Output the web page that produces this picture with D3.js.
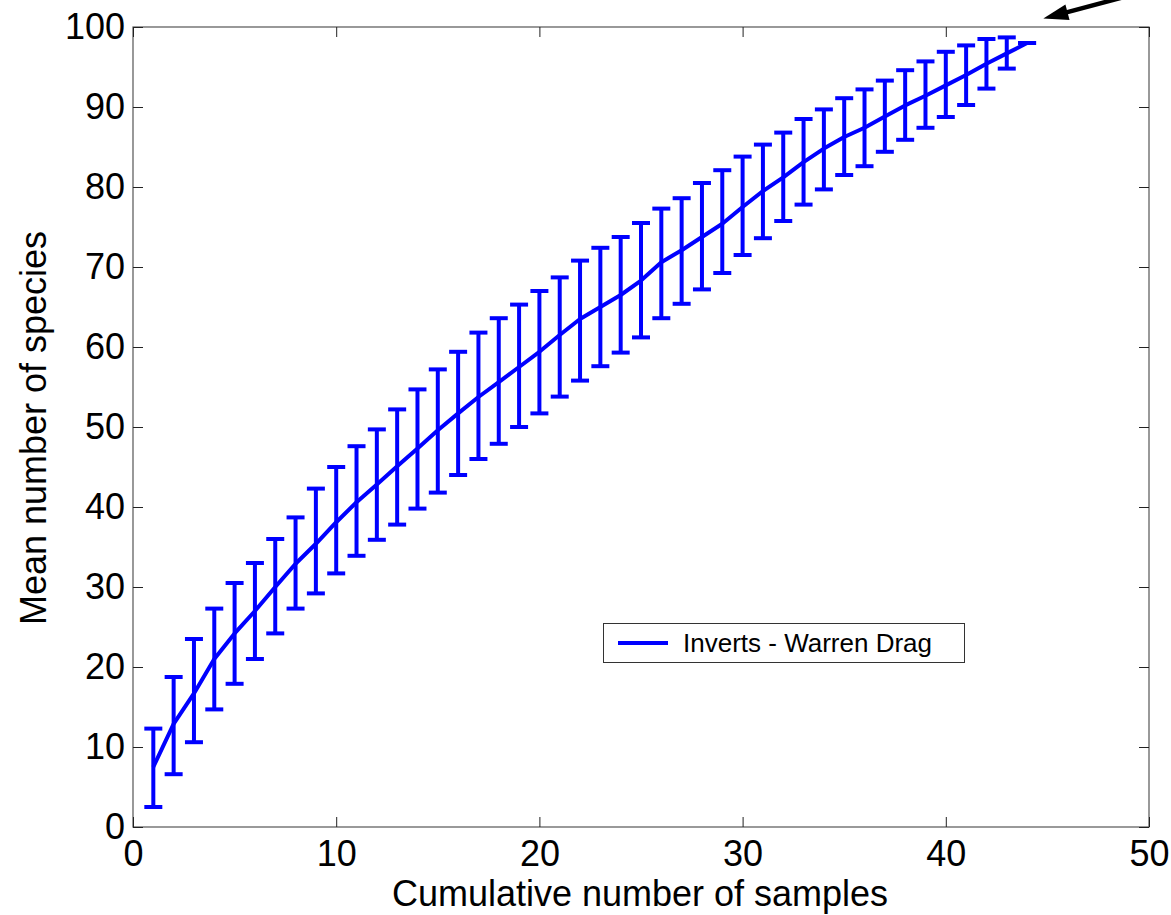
<!DOCTYPE html>
<html>
<head>
<meta charset="utf-8">
<title>species accumulation</title>
<style>
  html, body { margin: 0; padding: 0; background: #fff; }
  svg { display: block; }
  text { font-family: "Liberation Sans", Arial, sans-serif; fill: #000; }
</style>
</head>
<body>
<svg id="chart" width="1171" height="915"></svg>

<script src="https://cdn.jsdelivr.net/npm/d3@7/dist/d3.min.js"></script>
<script>

// samples 1..44, mean number of species and the error bar ends
const samples = d3.range(1, 45);

const meanSpecies = [
  7.5, 12.9, 16.7, 21.0, 24.2, 27.0, 30.0, 32.9, 35.4, 38.1,
  40.6, 42.8, 45.1, 47.3, 49.6, 51.7, 53.75, 55.6, 57.5, 59.4,
  61.5, 63.5, 65.0, 66.5, 68.3, 70.6, 72.1, 73.75, 75.4, 77.5,
  79.5, 81.2, 83.1, 84.8, 86.25, 87.4, 88.8, 90.2, 91.4, 92.7,
  94.0, 95.4, 96.7, 98.0
];

const upperBar = [
  12.3, 18.75, 23.5, 27.3, 30.5, 33.0, 36.0, 38.7, 42.3, 45.0,
  47.6, 49.7, 52.2, 54.7, 57.2, 59.4, 61.8, 63.6, 65.3, 67.0,
  68.7, 70.8, 72.4, 73.75, 75.5, 77.3, 78.6, 80.5, 82.1, 83.8,
  85.3, 86.8, 88.5, 89.7, 91.1, 92.2, 93.3, 94.6, 95.7, 96.9,
  97.7, 98.5, 98.7, 98.0
];

const lowerBar = [
  2.5, 6.6, 10.6, 14.7, 17.9, 21.0, 24.2, 27.3, 29.2, 31.7,
  33.9, 35.9, 37.8, 39.8, 41.8, 44.0, 46.0, 47.9, 50.0, 51.7,
  53.8, 55.8, 57.6, 59.3, 61.2, 63.6, 65.4, 67.2, 69.25, 71.5,
  73.6, 75.75, 77.8, 79.7, 81.5, 82.6, 84.4, 85.9, 87.4, 88.75,
  90.25, 92.3, 94.8, 98.0
];

const xTicks = [0, 10, 20, 30, 40, 50];
const yTicks = [0, 10, 20, 30, 40, 50, 60, 70, 80, 90, 100];
const seriesName = "Inverts - Warren Drag";

const data = samples.map((s, i) => ({
  n: s, mean: meanSpecies[i], hi: upperBar[i], lo: lowerBar[i]
}));

const plotL = 133, plotR = 1149, plotT = 27, plotB = 827;
const blue = "#0000ff";

const svg = d3.select("#chart");

const x = d3.scaleLinear().domain([0, 50]).range([plotL, plotR]);
const y = d3.scaleLinear().domain([0, 100]).range([plotB, plotT]);

// frame
svg.append("rect")
   .attr("x", plotL).attr("y", plotT)
   .attr("width", plotR - plotL).attr("height", plotB - plotT)
   .attr("fill", "none")
   .attr("stroke", "#555")
   .attr("stroke-width", 1.2);

// axes, ticks pointing inward
function styleAxis(g) {
  g.select(".domain").remove();
  g.selectAll(".tick line").attr("stroke", "#222").attr("stroke-width", 1);
  g.selectAll(".tick text")
   .style("font-family", '"Liberation Sans", Arial, sans-serif')
   .style("font-size", "36px")
   .attr("fill", "#000");
}

svg.append("g")
   .attr("transform", `translate(0,${plotB})`)
   .call(d3.axisBottom(x).tickValues(xTicks).tickFormat(d3.format("d"))
         .tickSizeInner(-10).tickSizeOuter(0).tickPadding(13))
   .call(styleAxis);

svg.append("g")
   .attr("transform", `translate(0,${plotT})`)
   .call(d3.axisTop(x).tickValues(xTicks).tickFormat("")
         .tickSizeInner(-10).tickSizeOuter(0))
   .call(styleAxis);

svg.append("g")
   .attr("transform", `translate(${plotL},0)`)
   .call(d3.axisLeft(y).tickValues(yTicks).tickFormat(d3.format("d"))
         .tickSizeInner(-10).tickSizeOuter(0).tickPadding(8))
   .call(styleAxis);

svg.append("g")
   .attr("transform", `translate(${plotR},0)`)
   .call(d3.axisRight(y).tickValues(yTicks).tickFormat("")
         .tickSizeInner(-10).tickSizeOuter(0))
   .call(styleAxis);

// axis titles
svg.append("text")
   .attr("x", 640)
   .attr("y", 906)
   .attr("text-anchor", "middle")
   .style("font-size", "36px")
   .text("Cumulative number of samples");

svg.append("text")
   .attr("transform", `translate(46,428) rotate(-90)`)
   .attr("text-anchor", "middle")
   .style("font-size", "36px")
   .text("Mean number of species");

// error bars
const capW = 9;
const bars = svg.append("g")
   .attr("stroke", blue)
   .attr("stroke-width", 4)
   .attr("fill", "none");

bars.selectAll(".stem")
   .data(data)
   .join("line")
   .attr("x1", d => x(d.n)).attr("x2", d => x(d.n))
   .attr("y1", d => y(d.lo)).attr("y2", d => y(d.hi));

bars.selectAll(".capHi")
   .data(data)
   .join("line")
   .attr("x1", d => x(d.n) - capW).attr("x2", d => x(d.n) + capW)
   .attr("y1", d => y(d.hi)).attr("y2", d => y(d.hi));

bars.selectAll(".capLo")
   .data(data)
   .join("line")
   .attr("x1", d => x(d.n) - capW).attr("x2", d => x(d.n) + capW)
   .attr("y1", d => y(d.lo)).attr("y2", d => y(d.lo));

// mean curve
const line = d3.line().x(d => x(d.n)).y(d => y(d.mean));
svg.append("path")
   .datum(data)
   .attr("d", line)
   .attr("fill", "none")
   .attr("stroke", blue)
   .attr("stroke-width", 4)
   .attr("stroke-linejoin", "round");

// legend
const lg = svg.append("g");
lg.append("rect")
  .attr("x", 603.5).attr("y", 623.5)
  .attr("width", 361).attr("height", 39)
  .attr("fill", "#fff")
  .attr("stroke", "#333")
  .attr("stroke-width", 1);
lg.append("line")
  .attr("x1", 618).attr("x2", 668)
  .attr("y1", 643).attr("y2", 643)
  .attr("stroke", blue).attr("stroke-width", 4);
lg.append("text")
  .attr("x", 683).attr("y", 652)
  .style("font-size", "26px")
  .text(seriesName);

// annotation arrow pointing at the end of the curve
const tip = [x(44.8), y(101.05)];
const tail = [x(49), y(103.9)];
const ang = Math.atan2(tip[1] - tail[1], tip[0] - tail[0]);
const headLen = 25, headHalf = 8;
const base = [tip[0] - headLen * Math.cos(ang), tip[1] - headLen * Math.sin(ang)];
svg.append("line")
   .attr("x1", tail[0]).attr("y1", tail[1])
   .attr("x2", base[0] + 2 * Math.cos(ang)).attr("y2", base[1] + 2 * Math.sin(ang))
   .attr("stroke", "#000").attr("stroke-width", 4.5);
svg.append("polygon")
   .attr("points", [
     tip,
     [base[0] + headHalf * Math.sin(ang), base[1] - headHalf * Math.cos(ang)],
     [base[0] - headHalf * Math.sin(ang), base[1] + headHalf * Math.cos(ang)]
   ].map(p => p.join(",")).join(" "))
   .attr("fill", "#000");

</script>
</body>
</html>
